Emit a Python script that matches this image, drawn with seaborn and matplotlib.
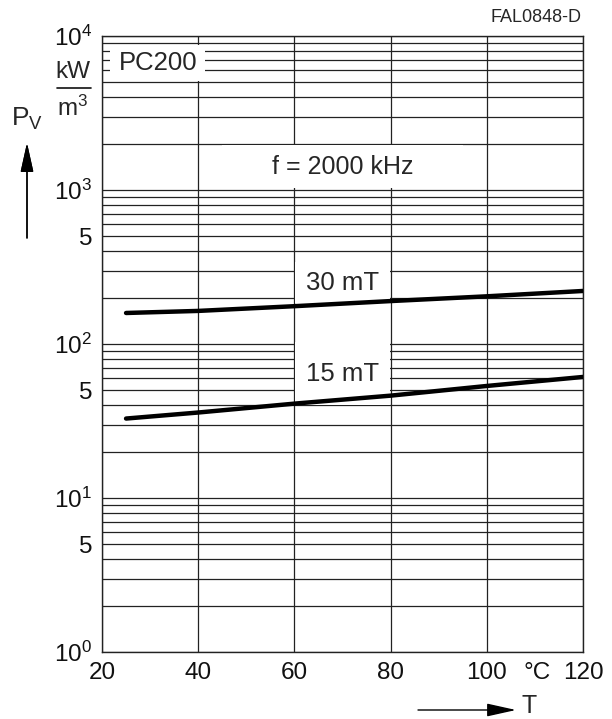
import pandas as pd
import matplotlib.pyplot as plt
import seaborn as sns
from matplotlib.patches import Rectangle
from matplotlib.lines import Line2D
from matplotlib.ticker import FixedLocator, FixedFormatter, NullFormatter

# data
temp_c = [25, 40, 60, 80, 100, 120]
pv_30mt = [159, 164, 176, 190, 204, 221]
pv_15mt = [32.8, 35.9, 41.0, 46.2, 53.4, 61.1]
curve_names = ["30 mT", "15 mT"]

x_ticks = [20, 40, 60, 80, 100, 120]
y_major = [1, 5, 10, 50, 100, 500, 1000, 10000]
y_major_labels = [r"$\mathrm{10^{0}}$", "5", r"$\mathrm{10^{1}}$", "5",
                  r"$\mathrm{10^{2}}$", "5", r"$\mathrm{10^{3}}$", r"$\mathrm{10^{4}}$"]
y_minor = [m * 10 ** d for d in range(4) for m in (2, 3, 4, 5, 6, 7, 8, 9)
           if m * 10 ** d not in y_major]

df = pd.DataFrame({
    "T": temp_c * 2,
    "Pv": pv_30mt + pv_15mt,
    "curve": [curve_names[0]] * len(temp_c) + [curve_names[1]] * len(temp_c),
})

sns.set_theme(style="white")
plt.rcParams["font.family"] = ["Liberation Sans", "DejaVu Sans"]
plt.rcParams["mathtext.fontset"] = "custom"
plt.rcParams["mathtext.rm"] = "Liberation Sans"
plt.rcParams["mathtext.it"] = "Liberation Sans:italic"

fig = plt.figure(figsize=(6.12, 7.19), dpi=100)
ax = fig.add_axes([102 / 612, 67 / 719, 481 / 612, 616 / 719])

sns.lineplot(data=df, x="T", y="Pv", hue="curve", palette=["black", "black"],
             linewidth=3.2, legend=False, ax=ax, zorder=3)

ax.set_yscale("log")
ax.set_xlim(20, 120)
ax.set_ylim(1, 1e4)
ax.xaxis.set_major_locator(FixedLocator(x_ticks))
ax.yaxis.set_major_locator(FixedLocator(y_major))
ax.yaxis.set_major_formatter(FixedFormatter(y_major_labels))
ax.yaxis.set_minor_locator(FixedLocator(y_minor))
ax.yaxis.set_minor_formatter(NullFormatter())
ax.tick_params(axis="both", which="both", length=0, labelsize=17.5, colors="#111111")
ax.tick_params(axis="x", pad=7)
ax.tick_params(axis="y", pad=7)
ax.set_xlabel("")
ax.set_ylabel("")

ax.set_axisbelow(True)
ax.grid(True, which="both", axis="y", color="#222222", linewidth=0.9)
ax.grid(True, which="major", axis="x", color="#222222", linewidth=0.9)
for s in ax.spines.values():
    s.set_color("#222222")
    s.set_linewidth(1.0)

# white masks behind the in-plot labels
for (x0, x1, y0, y1) in [(21.6, 41.5, 5100, 8800), (45, 95, 1030, 1950),
                         (60.2, 79.8, 185, 340), (60.2, 79.8, 40, 103)]:
    ax.add_patch(Rectangle((x0, y0), x1 - x0, y1 - y0, facecolor="white",
                           edgecolor="none", zorder=1))

ax.text(31.6, 6650, "PC200", fontsize=18.5, ha="center", va="center", zorder=4)
ax.text(70, 1400, "f = 2000 kHz", fontsize=18, ha="center", va="center", zorder=4)
ax.text(70, 250, curve_names[0], fontsize=18.5, ha="center", va="center", zorder=4)
ax.text(70, 63.5, curve_names[1], fontsize=18.5, ha="center", va="center", zorder=4)

ax.annotate("°C", xy=(110.5, 0), xycoords=("data", "axes fraction"),
            xytext=(0, -7.5), textcoords="offset points", ha="center", va="top",
            fontsize=17.5, color="#111111")

W, H = 612, 719
fig.text(582 / W, 1 - 18 / H, "FAL0848-D", fontsize=13, ha="right", va="center")
fig.text(73 / W, 1 - 72 / H, "kW", fontsize=17.5, ha="center", va="center")
fig.add_artist(Line2D([57 / W, 91 / W], [1 - 88 / H, 1 - 88 / H], color="#111111", lw=1.2))
fig.text(73 / W, 1 - 108 / H, r"$\mathrm{m^{3}}$", fontsize=17.5, ha="center", va="center")
fig.text(27 / W, 1 - 119 / H, r"$\mathrm{P_{V}}$", fontsize=19, ha="center", va="center")

arrow = dict(arrowstyle="-|>,head_length=0.9,head_width=0.2", mutation_scale=20,
             color="black", lw=1.0, shrinkA=0, shrinkB=0)
fig.add_artist(plt.annotate("", xy=(27 / W, 1 - 143 / H), xytext=(27 / W, 1 - 238 / H),
                            xycoords="figure fraction", arrowprops=arrow))
ax.annotate("", xy=(516 / W, 1 - 710 / H), xytext=(418 / W, 1 - 710 / H),
            xycoords="figure fraction", arrowprops=arrow, annotation_clip=False)
fig.text(529 / W, 1 - 706 / H, "T", fontsize=18, ha="center", va="center")

fig.savefig("out.png", dpi=100)
